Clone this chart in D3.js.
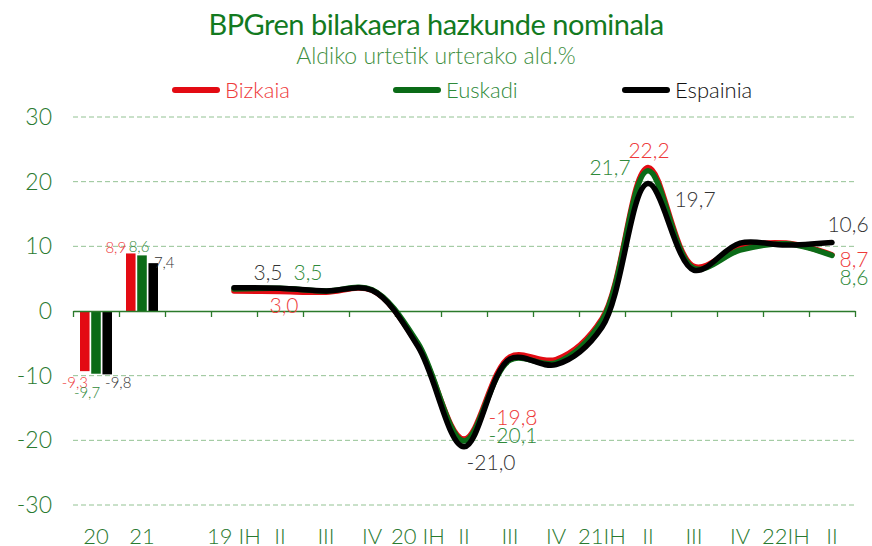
<!DOCTYPE html>
<html>
<head>
<meta charset="utf-8">
<script src="https://cdn.jsdelivr.net/npm/d3@7"></script>
<style>
  body { margin: 0; background: #fff; }
  svg { font-family: Lato, "Open Sans", sans-serif; }
  .grid line { stroke: #93c293; stroke-dasharray: 5,3; }
  .xaxis path, .xaxis line { stroke: #2b7a2b; stroke-width: 1.3; }
  .lbl text { font-weight: 300; }
</style>
</head>
<body>
<svg class="chart"></svg>
<script>
var width = 872, height = 546;

// x axis categories (17 slots: 2 annual + gap + 14 quarters)
var xLabels = ["20", "21", "", "19 IH", "II", "III", "IV", "20 IH", "II", "III", "IV", "21IH", "II", "III", "IV", "22IH", "II"];
var yTicks = [-30, -20, -10, 0, 10, 20, 30];

var seriesNames = ["Bizkaia", "Euskadi", "Espainia"];
var seriesColors = ["#e30b13", "#0b6b17", "#000000"];
var labelColors = ["#ee3a3a", "#2f8a3a", "#333333"];

// annual bars (2020, 2021)
var barBizkaia = [-9.3, 8.9];
var barEuskadi = [-9.7, 8.6];
var barEspainia = [-9.8, 7.4];

// quarterly lines 19 IH .. 22 II
var lineBizkaia = [3.1, 3.0, 2.9, 3.2, -5.3, -19.8, -7.1, -7.5, -1.2, 22.2, 6.9, 9.9, 10.5, 8.7];
var lineEuskadi = [3.4, 3.5, 3.1, 3.3, -5.0, -20.1, -7.6, -8.0, -1.5, 21.7, 6.6, 9.4, 10.4, 8.6];
var lineEspainia = [3.6, 3.5, 3.1, 3.2, -5.5, -21.0, -7.4, -8.3, -2.5, 19.7, 6.3, 10.5, 10.2, 10.6];

var barData = [barBizkaia, barEuskadi, barEspainia];
var lineData = [lineBizkaia, lineEuskadi, lineEspainia];

var chart = d3.select(".chart").attr("width", width).attr("height", height);

var x = d3.scaleBand().domain(d3.range(xLabels.length)).range([73, 855]);
var xEdge = d3.scaleLinear().domain([0, xLabels.length]).range([73, 855]);
var y = d3.scaleLinear().domain([-30, 30]).range([505, 117]);
var xs = d3.scaleBand().domain(d3.range(3)).range([7, 39]).paddingInner(0.15);

var fmt = function(v) { return d3.format(".1f")(v).replace(".", ",").replace("\u2212", "-"); };

// titles
chart.append("text").attr("x", 436).attr("y", 35).attr("text-anchor", "middle")
    .attr("fill", "#137a1f").style("font-size", "29px").style("letter-spacing", "-0.5px")
    .text("BPGren bilakaera hazkunde nominala");
chart.append("text").attr("x", 436).attr("y", 64).attr("text-anchor", "middle")
    .attr("fill", "#3f8f3f").style("font-size", "23px").style("font-weight", 300)
    .text("Aldiko urtetik urterako ald.%");

// legend
var legendX = [172, 393, 622];
var legend = chart.append("g").selectAll("g").data(seriesNames).enter().append("g")
    .attr("transform", function(d, i) { return "translate(" + legendX[i] + ",90)"; });
legend.append("line").attr("x1", 3).attr("x2", 45)
    .attr("stroke", function(d, i) { return seriesColors[i]; })
    .attr("stroke-width", 6).attr("stroke-linecap", "round");
legend.append("text").attr("x", 53).attr("y", 8)
    .attr("fill", function(d, i) { return i == 2 ? "#111" : labelColors[i]; })
    .style("font-size", "22px").style("font-weight", 300)
    .text(function(d) { return d; });

// grid
chart.append("g").attr("class", "grid").selectAll("line")
    .data(yTicks.filter(function(d) { return d != 0; }))
    .enter().append("line")
    .attr("x1", 73).attr("x2", 855)
    .attr("y1", function(d) { return y(d); }).attr("y2", function(d) { return y(d); });

// y labels
chart.append("g").selectAll("text").data(yTicks).enter().append("text")
    .attr("x", 52).attr("y", function(d) { return y(d) + 8; })
    .attr("text-anchor", "end").attr("fill", "#2a7a30").style("font-size", "23px").style("font-weight", 300)
    .text(function(d) { return d; });

// bars
var bars = chart.append("g");
barData.forEach(function(vals, s) {
    bars.selectAll(null).data(vals).enter().append("rect")
        .attr("x", function(d, i) { return x(i) + xs(s); })
        .attr("width", xs.bandwidth())
        .attr("y", function(d) { return y(Math.max(0, d)); })
        .attr("height", function(d) { return Math.abs(y(d) - y(0)); })
        .attr("fill", seriesColors[s]);
});

// axis at zero
chart.append("g").attr("class", "xaxis")
    .attr("transform", "translate(0," + y(0) + ")")
    .call(d3.axisBottom(xEdge).tickValues(d3.range(xLabels.length + 1)).tickFormat("").tickSizeInner(6).tickSizeOuter(0));

// category labels
chart.append("g").selectAll("text").data(xLabels).enter().append("text")
    .attr("x", function(d, i) { return x(i) + x.bandwidth() / 2; })
    .attr("y", 544).attr("text-anchor", "middle")
    .attr("fill", "#2a7a30").style("font-size", "22px").style("font-weight", 300)
    .text(function(d) { return d; });

// lines
var qStart = 3;
var line = d3.line()
    .x(function(d, i) { return x(qStart + i) + x.bandwidth() / 2; })
    .y(function(d) { return y(d); })
    .curve(d3.curveCatmullRom.alpha(0.5));

chart.append("g").selectAll("path").data(lineData).enter().append("path")
    .attr("d", line).attr("fill", "none")
    .attr("stroke", function(d, i) { return seriesColors[i]; })
    .attr("stroke-width", 5.5).attr("stroke-linecap", "round").attr("stroke-linejoin", "round");

// bar labels [series, index, dx, dy]
var barLabels = [[0, 0, -10, 17], [1, 0, -9, 24], [2, 0, 11, 14],
                 [0, 1, -15, 0], [1, 1, -3, -3], [2, 1, 11, 5]];
chart.append("g").attr("class", "lbl").selectAll("text").data(barLabels).enter().append("text")
    .attr("x", function(d) { return x(d[1]) + xs(d[0]) + xs.bandwidth() / 2 + d[2]; })
    .attr("y", function(d) { var v = barData[d[0]][d[1]]; return y(v) + d[3]; })
    .attr("text-anchor", "middle").style("font-size", "15px")
    .attr("fill", function(d) { return labelColors[d[0]]; })
    .text(function(d) { return fmt(barData[d[0]][d[1]]); });

// line labels [series, index, dx, dy]
var lineLabels = [[2, 1, -12, -8], [1, 1, 28, -8], [0, 1, 4, 21],
                  [0, 5, 49, -14], [1, 5, 49, 2], [2, 5, 27, 23],
                  [1, 9, -38, 4], [0, 9, 1, -9], [2, 9, 47, 23],
                  [2, 13, 16, -10], [0, 13, 22, 12], [1, 13, 22, 30]];
chart.append("g").attr("class", "lbl").selectAll("text").data(lineLabels).enter().append("text")
    .attr("x", function(d) { return x(qStart + d[1]) + x.bandwidth() / 2 + d[2]; })
    .attr("y", function(d) { return y(lineData[d[0]][d[1]]) + d[3]; })
    .attr("text-anchor", "middle").style("font-size", "21px")
    .attr("fill", function(d) { return labelColors[d[0]]; })
    .text(function(d) { return fmt(lineData[d[0]][d[1]]); });
</script>
</body>
</html>
